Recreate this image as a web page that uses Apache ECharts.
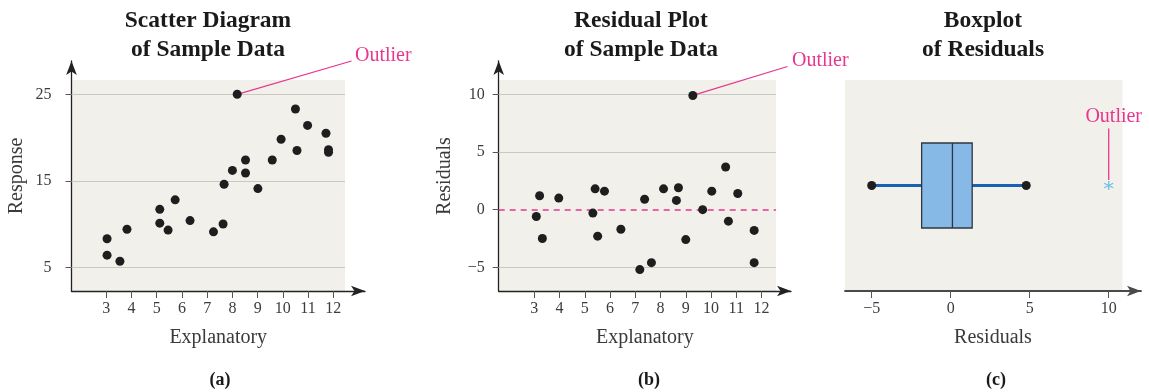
<!DOCTYPE html>
<html>
<head>
<meta charset="utf-8">
<script src="https://cdn.jsdelivr.net/npm/echarts@6/dist/echarts.min.js"></script>
<style>
  html, body { margin: 0; padding: 0; background: #ffffff; }
  #chart { width: 1149px; height: 392px; }
</style>
</head>
<body>
<div id="chart"></div>
<script>
// (a) sample data: explanatory / response pairs
const scatterX = [3.03, 3.03, 3.54, 3.82, 5.12, 5.12, 5.45, 5.73, 6.32, 7.25, 7.63, 7.67, 8.0, 8.19, 8.52, 8.52, 9.01, 9.58, 9.93, 10.5, 10.56, 10.98, 11.71, 11.81, 11.81];
const scatterY = [8.3, 6.4, 5.7, 9.4, 11.7, 10.1, 9.3, 12.8, 10.4, 9.1, 10.0, 14.6, 16.2, 25.0, 17.4, 15.9, 14.1, 17.4, 19.8, 23.3, 18.5, 21.4, 20.5, 18.6, 18.3];
const scatterOutlier = 13;            // index of the outlying point
const responseTicks = [5, 15, 25];
const explanatoryTicks = [3, 4, 5, 6, 7, 8, 9, 10, 11, 12];

// (b) residuals of the fitted line
const residualX = [3.08, 3.21, 3.32, 3.97, 5.32, 5.41, 5.51, 5.78, 6.43, 7.18, 7.37, 7.64, 8.12, 8.63, 8.71, 9.0, 9.28, 9.67, 10.03, 10.58, 10.69, 11.06, 11.71, 11.71];
const residualY = [-0.6, 1.2, -2.5, 1.0, -0.3, 1.8, -2.3, 1.6, -1.7, -5.2, 0.9, -4.6, 1.8, 0.8, 1.9, -2.6, 9.9, 0.0, 1.6, 3.7, -1.0, 1.4, -1.8, -4.6];
const residualOutlier = 16;
const residualTicks = [-5, 0, 5, 10];

// (c) boxplot of residuals: [lower whisker, Q1, median, Q3, upper whisker]
const boxStats = [-5.0, -1.84, 0.11, 1.36, 4.78];
const boxOutliers = [10.0];
const boxTicks = [-5, 0, 5, 10];
const boxCategory = ['Residuals'];

// ---------------------------------------------------------------------------
const SERIF = '"Liberation Serif", "Times New Roman", serif';
const INK = '#1e1e1e';
const AXIS = '#222222';
const TICK_TXT = '#3c3c3c';
const PANEL_BG = '#f1f0ea';
const GRID_LINE = '#c9c9c4';
const PINK = '#e8368f';

// axis extents (the axes run past the shaded panel to their arrow heads)
const A = { xMin: 1.62, xMax: 13.257, yMin: 2.26, yMax: 28.85, bgRight: 12.464, bgTop: 26.65 };
const B = { xMin: 1.59, xMax: 13.169, yMin: -7.055, yMax: 12.887, bgRight: 12.574, bgTop: 11.24 };
const C = { xMin: -6.69, xMax: 12.044, bgRight: 10.867 };

const minus = v => String(v).replace('-', '\u2212');

function valueAxis(opts) {
  return Object.assign({
    type: 'value',
    splitLine: { show: false },
    axisLine: {
      show: true, onZero: false,
      lineStyle: { color: AXIS, width: 1.3 },
      symbol: ['none', 'arrow'], symbolSize: [8, 14]
    },
    nameTextStyle: { fontFamily: SERIF, fontSize: 20, color: '#3a3a3a' }
  }, opts);
}

function ticks(values, length, margin) {
  return {
    axisTick: { show: true, length: length, customValues: values, lineStyle: { color: '#555', width: 1 } },
    axisLabel: { customValues: values, margin: margin, color: TICK_TXT, fontFamily: SERIF, fontSize: 16, formatter: minus }
  };
}

const zip = (xs, ys) => xs.map((x, i) => [x, ys[i]]);

// shaded panel plus horizontal reference lines, kept below the dots
function panelBackdrop(xAxisIndex, yAxisIndex, area, lines) {
  return {
    type: 'scatter', xAxisIndex: xAxisIndex, yAxisIndex: yAxisIndex, z: 1,
    data: [], silent: true,
    markArea: { silent: true, z: 0, itemStyle: { color: PANEL_BG }, data: [area] },
    markLine: lines ? {
      silent: true, z: 1, symbol: 'none', label: { show: false },
      lineStyle: { color: GRID_LINE, width: 1, type: 'solid' },
      data: lines
    } : undefined
  };
}

const chart = echarts.init(document.getElementById('chart'), null, { renderer: 'canvas' });

const option = {
  animation: false,
  backgroundColor: '#ffffff',
  grid: [
    { left: 71.5, top: 61, width: 293.5, height: 230, outerBoundsMode: 'none' },
    { left: 498.7, top: 61, width: 292.3, height: 230, outerBoundsMode: 'none' },
    { left: 845, top: 80, width: 296, height: 211, outerBoundsMode: 'none' }
  ],
  xAxis: [
    valueAxis(Object.assign({
      gridIndex: 0, min: A.xMin, max: A.xMax,
      name: 'Explanatory', nameLocation: 'middle', nameGap: 37
    }, ticks(explanatoryTicks, 7, 10))),
    valueAxis(Object.assign({
      gridIndex: 1, min: B.xMin, max: B.xMax,
      name: 'Explanatory', nameLocation: 'middle', nameGap: 37
    }, ticks(explanatoryTicks, 7, 10))),
    valueAxis(Object.assign({
      gridIndex: 2, min: C.xMin, max: C.xMax,
      name: 'Residuals', nameLocation: 'middle', nameGap: 37
    }, ticks(boxTicks, 7, 10), {
      axisLine: {
        show: true, onZero: false,
        lineStyle: { color: '#4a4a4a', width: 1.8 },
        symbol: ['none', 'arrow'], symbolSize: [8, 14]
      }
    }))
  ],
  yAxis: [
    valueAxis(Object.assign({
      gridIndex: 0, min: A.yMin, max: A.yMax,
      name: 'Response', nameLocation: 'middle', nameRotate: 90, nameGap: 45
    }, ticks(responseTicks, 6, 20))),
    valueAxis(Object.assign({
      gridIndex: 1, min: B.yMin, max: B.yMax,
      name: 'Residuals', nameLocation: 'middle', nameRotate: 90, nameGap: 44
    }, ticks(residualTicks, 6, 14))),
    { gridIndex: 2, type: 'category', data: boxCategory, show: false }
  ],
  series: [
    // (a) panel and reference lines
    panelBackdrop(0, 0,
      [{ coord: [A.xMin, A.yMin] }, { coord: [A.bgRight, A.bgTop] }],
      responseTicks.map(v => [{ coord: [A.xMin, v] }, { coord: [A.bgRight, v] }])),
    // (a) scatter diagram
    {
      type: 'scatter', xAxisIndex: 0, yAxisIndex: 0, z: 3,
      data: zip(scatterX, scatterY),
      symbolSize: 9, itemStyle: { color: INK, opacity: 1 }
    },
    // (b) panel, reference lines and the dashed zero line
    panelBackdrop(1, 1,
      [{ coord: [B.xMin, B.yMin] }, { coord: [B.bgRight, B.bgTop] }],
      residualTicks.map(v => [
        v === 0
          ? { coord: [B.xMin, v], lineStyle: { color: PINK, width: 1.6, type: [6, 5] } }
          : { coord: [B.xMin, v] },
        { coord: [B.bgRight, v] }
      ])),
    // (b) residual plot
    {
      type: 'scatter', xAxisIndex: 1, yAxisIndex: 1, z: 3,
      data: zip(residualX, residualY),
      symbolSize: 9, itemStyle: { color: INK, opacity: 1 }
    },
    // (c) panel
    panelBackdrop(2, 2, [{ xAxis: C.xMin }, { xAxis: C.bgRight }], null),
    // (c) whisker from lower to upper fence, drawn beneath the box
    {
      type: 'line', xAxisIndex: 2, yAxisIndex: 2, z: 2,
      data: [[boxStats[0], 0], [boxStats[4], 0]],
      showSymbol: true, symbol: 'circle', symbolSize: 9,
      itemStyle: { color: INK },
      lineStyle: { color: '#1862b4', width: 3 }
    },
    // (c) box from Q1 to Q3 with the median
    {
      type: 'boxplot', xAxisIndex: 2, yAxisIndex: 2, z: 3,
      boxWidth: [85, 85],
      data: [[boxStats[1], boxStats[1], boxStats[2], boxStats[3], boxStats[3]]],
      itemStyle: { color: '#87b9e7', borderColor: '#2c3742', borderWidth: 1.3 }
    },
    // (c) outlying residual
    {
      type: 'scatter', xAxisIndex: 2, yAxisIndex: 2, z: 4,
      data: boxOutliers.map(v => [v, 0]),
      symbol: 'path://M5,0L5,10M0.67,2.5L9.33,7.5M0.67,7.5L9.33,2.5',
      symbolSize: 9,
      itemStyle: { color: 'rgba(0,0,0,0)', borderColor: '#4fb3ea', borderWidth: 1.3 }
    }
  ]
};

chart.setOption(option);

// Titles, panel letters and the "Outlier" call-outs
const pA = chart.convertToPixel({ gridIndex: 0 }, [scatterX[scatterOutlier], scatterY[scatterOutlier]]);
const pB = chart.convertToPixel({ gridIndex: 1 }, [residualX[residualOutlier], residualY[residualOutlier]]);
const pC = chart.convertToPixel({ gridIndex: 2 }, [boxOutliers[0], 0]);

const text = (str, x, y, font, color, align) => ({
  type: 'text', silent: true, z: 100,
  style: { text: str, x: x, y: y, font: font, fill: color, align: align || 'center', verticalAlign: 'middle' }
});
const callout = (x1, y1, x2, y2) => ({
  type: 'line', silent: true, z: 2,
  shape: { x1: x1, y1: y1, x2: x2, y2: y2 },
  style: { stroke: PINK, lineWidth: 1.3 }
});
const TITLE_FONT = 'bold 23.5px ' + SERIF;
const LETTER_FONT = 'bold 18px ' + SERIF;
const CALLOUT_FONT = '20px ' + SERIF;

chart.setOption({
  graphic: [
    text('Scatter Diagram', 208, 21, TITLE_FONT, '#1a1a1a'),
    text('of Sample Data', 208, 49.5, TITLE_FONT, '#1a1a1a'),
    text('Residual Plot', 641, 21, TITLE_FONT, '#1a1a1a'),
    text('of Sample Data', 641, 49.5, TITLE_FONT, '#1a1a1a'),
    text('Boxplot', 983, 21, TITLE_FONT, '#1a1a1a'),
    text('of Residuals', 983, 49.5, TITLE_FONT, '#1a1a1a'),
    text('(a)', 220, 380, LETTER_FONT, '#1a1a1a'),
    text('(b)', 649, 380, LETTER_FONT, '#1a1a1a'),
    text('(c)', 996, 380, LETTER_FONT, '#1a1a1a'),

    callout(pA[0], pA[1], 351.5, 61),
    text('Outlier', 355, 56, CALLOUT_FONT, PINK, 'left'),
    callout(pB[0], pB[1], 787.5, 66.5),
    text('Outlier', 792, 61, CALLOUT_FONT, PINK, 'left'),
    callout(pC[0], 128.5, pC[0], 180),
    text('Outlier', pC[0] + 5, 117, CALLOUT_FONT, PINK)
  ]
});
</script>
</body>
</html>
